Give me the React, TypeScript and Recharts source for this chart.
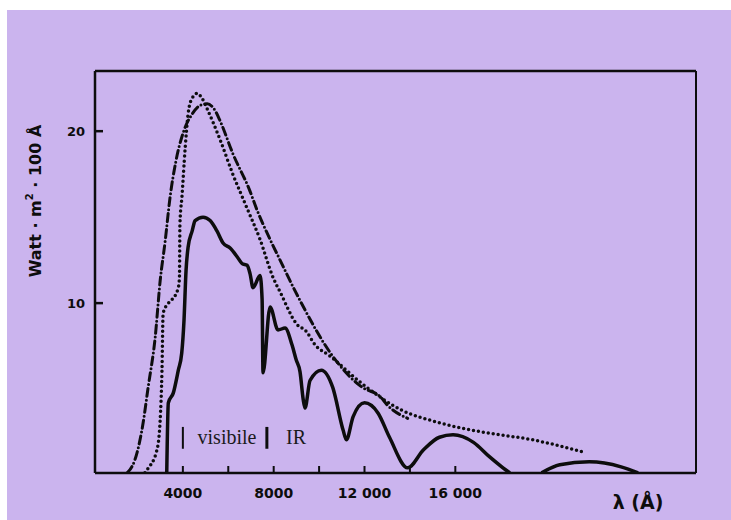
import { LineChart, Line, XAxis, YAxis, ReferenceLine } from 'recharts'

// wavelength in Å, irradiance in W·m⁻²·(100 Å)⁻¹
const dottedLambda = [2330, 2420, 2860, 3000, 3080, 3130, 3300, 3520, 3800, 3850, 3870, 3960, 4100, 4230, 4400, 4630, 4850, 5070, 5640, 6200, 6800, 7400, 7970, 8300, 9000, 9470, 9750, 10500, 12100, 13600, 15300, 17200, 19400, 21600]
const dottedValue = [0.13, 0.3, 1.47, 3.2, 6.1, 9.4, 9.9, 10.2, 10.9, 11.5, 14.6, 16.2, 19.0, 21.0, 21.9, 22.2, 21.9, 21.3, 19.5, 17.5, 15.6, 13.7, 11.5, 10.6, 8.8, 8.3, 7.7, 6.9, 5.1, 3.8, 3.04, 2.5, 2.05, 1.36]

const dashDotLambda = [1540, 1590, 1980, 2250, 2470, 2780, 3000, 3220, 3440, 3700, 4010, 4410, 4760, 5070, 5420, 5640, 6200, 6960, 7270, 7530, 8280, 9300, 10500, 11900, 12700, 13000, 13900]
const dashDotValue = [0.13, 0.19, 1.29, 3.04, 5.1, 8.0, 11.3, 13.6, 16.2, 18.3, 19.9, 21.0, 21.5, 21.6, 21.2, 20.6, 18.7, 16.5, 15.4, 14.6, 12.5, 9.8, 7.1, 5.1, 4.55, 4.08, 3.3]

const solidLambda = [3290, 3360, 3580, 3800, 3950, 4050, 4140, 4230, 4410, 4540, 4890, 5200, 5500, 5770, 6080, 6390, 6610, 6830, 6960, 7090, 7400, 7490, 7530, 7840, 8190, 8500, 8810, 8990, 9160, 9300, 9380, 9600, 10100, 10600, 11060, 11200, 11500, 12000, 12600, 13100, 13900, 14600, 15300, 15900, 16800, 17500, 18100, 18400]
const solidValue = [0.13, 4.2, 4.78, 6.1, 7.1, 9.0, 11.9, 13.25, 14.2, 14.8, 15.0, 14.8, 14.2, 13.5, 13.2, 12.7, 12.3, 12.2, 11.7, 10.9, 11.6, 10.2, 5.95, 9.78, 8.44, 8.55, 7.56, 6.7, 6.0, 4.4, 3.9, 5.5, 6.1, 5.1, 2.6, 2.05, 3.4, 4.2, 3.6, 2.2, 0.42, 1.47, 2.2, 2.34, 1.9, 1.07, 0.42, 0.13]

const tailLambda = [19800, 20600, 21900, 23300, 24050]
const tailValue = [0.13, 0.6, 0.77, 0.48, 0.13]

const xTicks = [4000, 6000, 8000, 10000, 12000, 14000, 16000]
const xTickText: Record<number, string> = { 4000: '4000', 8000: '8000', 12000: '12 000', 16000: '16 000' }
const yTicks = [10, 20]

const zip = (xs: number[], ys: number[]) => xs.map((x, i) => ({ x, y: ys[i] }))

const dotted = zip(dottedLambda, dottedValue)
const dashDot = zip(dashDotLambda, dashDotValue)
const solid = zip(solidLambda, solidValue)
const solidTail = zip(tailLambda, tailValue)

const X_DOMAIN = [130, 26600]
const Y_DOMAIN = [0.12, 23.5]
const INK = '#0d0d0d'
const BG = '#cbb4ee'

const XTick = ({ x, y, payload }: any) => {
  const label = xTickText[payload.value]
  return (
    <g>
      <line x1={x} y1={y} x2={x} y2={y - 7} stroke={INK} strokeWidth={2} />
      {label && (
        <text x={x} y={y + 20} textAnchor="middle" dominantBaseline="central" fontFamily="DejaVu Sans" fontWeight="bold" fontSize={14} fill={INK}>
          {label}
        </text>
      )}
    </g>
  )
}

const YTick = ({ x, y, payload }: any) => (
  <g>
    <line x1={x} y1={y} x2={x + 8} y2={y} stroke={INK} strokeWidth={2.5} />
    <text x={x - 10} y={y} textAnchor="end" dominantBaseline="central" fontFamily="DejaVu Sans" fontWeight="bold" fontSize={13} fill={INK}>
      {payload.value}
    </text>
  </g>
)

const App = () => {
  const line = { type: 'monotone' as const, dataKey: 'y', dot: false, activeDot: false, isAnimationActive: false, stroke: INK }
  return (
    <div style={{ position: 'absolute', left: 7, top: 10, width: 724, height: 510, background: BG }}>
      <LineChart width={724} height={510} margin={{ top: 61, right: 35, bottom: 0, left: 0 }}>
        <XAxis dataKey="x" type="number" domain={X_DOMAIN} allowDataOverflow ticks={xTicks} interval={0} tickSize={0} tickMargin={0} height={47} tick={<XTick />} axisLine={{ stroke: INK, strokeWidth: 2.5 }} />
        <YAxis type="number" domain={Y_DOMAIN} allowDataOverflow ticks={yTicks} interval={0} tickSize={0} tickMargin={0} width={88} tick={<YTick />} axisLine={{ stroke: INK, strokeWidth: 2.5 }} />

        {/* frame: top and right edges */}
        <ReferenceLine y={Y_DOMAIN[1]} stroke={INK} strokeWidth={2.5} />
        <ReferenceLine x={X_DOMAIN[1]} stroke={INK} strokeWidth={2} />

        <Line {...line} data={dashDot} strokeWidth={3} strokeDasharray="8 4 0 4" strokeLinecap="round" />
        <Line {...line} data={dotted} strokeWidth={3.5} strokeDasharray="0 5" strokeLinecap="round" />
        <Line {...line} data={solid} strokeWidth={3.5} strokeLinejoin="round" />
        <Line {...line} data={solidTail} strokeWidth={3.5} />

        <ReferenceLine segment={[{ x: 4000, y: 1.53 }, { x: 4000, y: 2.8 }]} stroke={INK} strokeWidth={2} />
        <ReferenceLine segment={[{ x: 7700, y: 1.53 }, { x: 7700, y: 2.8 }]} stroke={INK} strokeWidth={3} />

        <text x={220} y={434} textAnchor="middle" fontFamily="Liberation Serif" fontSize={20} fill="#1a1a1a">visibile</text>
        <text x={289} y={434} textAnchor="middle" fontFamily="Liberation Serif" fontSize={20} fill="#1a1a1a">IR</text>
        <text
          x={28}
          y={191}
          transform="rotate(-90, 28, 191)"
          textAnchor="middle"
          dominantBaseline="central"
          fontFamily="DejaVu Sans"
          fontWeight="bold"
          fontSize={16}
          fill={INK}
        >
          Watt · m<tspan dy={-6} fontSize={10}>2</tspan>
          <tspan dy={6}> · 100 Å</tspan>
        </text>
        <text x={631} y={492} textAnchor="middle" dominantBaseline="central" fontFamily="DejaVu Sans" fontWeight="bold" fontSize={19} fill={INK}>
          λ (Å)
        </text>
      </LineChart>
    </div>
  )
}

export default App
